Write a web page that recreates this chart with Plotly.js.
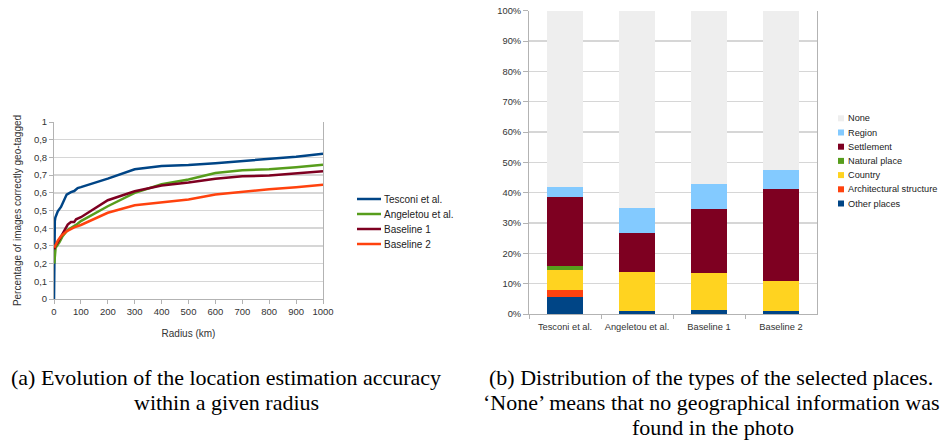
<!DOCTYPE html>
<html>
<head>
<meta charset="utf-8">
<script src="https://cdn.plot.ly/plotly-3.0.1.min.js"></script>
<style>html,body{margin:0;padding:0;background:#fff;}#chart{width:941px;height:440px;}</style>
</head>
<body>
<div id="chart"></div>
<script>
// ---------- Data: left chart (accuracy vs radius) ----------
const seriesNames = ["Tesconi et al.", "Angeletou et al.", "Baseline 1", "Baseline 2"];
const seriesColors = ["#004586", "#579D1C", "#7E0021", "#FF420E"];

const tesconiX = [0, 1, 3, 5, 14, 26, 38, 47, 63, 75, 88, 100, 200, 300, 400, 500, 600, 700, 800, 900, 1000];
const tesconiY = [0, 0.39, 0.44, 0.46, 0.495, 0.52, 0.557, 0.59, 0.604, 0.61, 0.627, 0.632, 0.68, 0.733, 0.752, 0.757, 0.767, 0.779, 0.79, 0.804, 0.82];

const angeletouX = [1, 3, 6, 20, 32, 51, 63, 75, 88, 100, 200, 300, 400, 500, 600, 700, 800, 900, 1000];
const angeletouY = [0.2, 0.27, 0.29, 0.32, 0.355, 0.39, 0.40, 0.41, 0.425, 0.44, 0.524, 0.6, 0.648, 0.675, 0.712, 0.727, 0.733, 0.745, 0.759];

const baseline1X = [1, 5, 14, 26, 38, 51, 63, 75, 82, 100, 200, 300, 400, 500, 600, 700, 800, 900, 1000];
const baseline1Y = [0.28, 0.3, 0.32, 0.35, 0.38, 0.42, 0.435, 0.435, 0.45, 0.462, 0.558, 0.609, 0.641, 0.658, 0.68, 0.693, 0.698, 0.71, 0.722];

const baseline2X = [1, 14, 26, 45, 57, 75, 100, 200, 300, 400, 500, 600, 700, 800, 900, 1000];
const baseline2Y = [0.29, 0.33, 0.355, 0.38, 0.39, 0.405, 0.418, 0.487, 0.53, 0.547, 0.562, 0.59, 0.607, 0.62, 0.632, 0.645];

const radiusTicks = [0, 100, 200, 300, 400, 500, 600, 700, 800, 900, 1000];
const accTickVals = [0, 0.1, 0.2, 0.3, 0.4, 0.5, 0.6, 0.7, 0.8, 0.9, 1];
const accTickText = ["0", "0,1", "0,2", "0,3", "0,4", "0,5", "0,6", "0,7", "0,8", "0,9", "1"];

// ---------- Data: right chart (place type distribution, %) ----------
const methods = ["Tesconi et al.", "Angeletou et al.", "Baseline 1", "Baseline 2"];
const placeTypes = ["Other places", "Architectural structure", "Country", "Natural place", "Settlement", "Region", "None"];
const placeColors = ["#004586", "#FF420E", "#FFD320", "#579D1C", "#7E0021", "#83CAFF", "#EEEEEE"];
const otherPlaces   = [5.7, 1.0, 1.4, 1.0];
const architectural = [2.3, 0.0, 0.0, 0.0];
const country       = [6.5, 13.0, 12.2, 9.9];
const naturalPlace  = [1.3, 0.0, 0.0, 0.0];
const settlement    = [22.7, 12.6, 21.1, 30.4];
const region        = [3.5, 8.2, 8.3, 6.1];
const none          = [58.0, 65.2, 57.0, 52.6];
const placeValues = [otherPlaces, architectural, country, naturalPlace, settlement, region, none];

// ---------- Layout helpers (pixel -> paper) ----------
const W = 941, H = 440;
const px = v => v / W;
const py = v => 1 - v / H;

const lineX = [tesconiX, angeletouX, baseline1X, baseline2X];
const lineY = [tesconiY, angeletouY, baseline1Y, baseline2Y];

const traces = [];
seriesNames.forEach((n, i) => {
  traces.push({
    type: "scatter", mode: "lines", name: n,
    x: lineX[i], y: lineY[i], xaxis: "x", yaxis: "y",
    line: {color: seriesColors[i], width: 2.5, shape: "linear"},
    showlegend: false, hoverinfo: "x+y+name"
  });
});
placeTypes.forEach((n, i) => {
  traces.push({
    type: "bar", name: n, x: methods, y: placeValues[i],
    xaxis: "x2", yaxis: "y2",
    marker: {color: placeColors[i], line: {width: 0}},
    width: 0.5, showlegend: false
  });
});

const axisFont = {family: "Liberation Sans, Arial, sans-serif", size: 9.5, color: "#333333"};
const gridC = "#d6d6d6", lineC = "#b3b3b3";

const shapes = [], annotations = [];

// Left custom legend
seriesNames.forEach((n, i) => {
  const yy = 199 + i * 15;
  shapes.push({type: "line", xref: "paper", yref: "paper",
    x0: px(357), x1: px(381), y0: py(yy), y1: py(yy),
    line: {color: seriesColors[i], width: 2.5}});
  annotations.push({xref: "paper", yref: "paper", x: px(382), y: py(yy),
    xanchor: "left", yanchor: "middle", showarrow: false, text: n,
    font: {family: "Liberation Sans, Arial, sans-serif", size: 10, color: "#222"}});
});

// Right custom legend (top item = None)
for (let k = placeTypes.length - 1, r = 0; k >= 0; k--, r++) {
  const yy = 118.3 + r * 14.2;
  shapes.push({type: "rect", xref: "paper", yref: "paper",
    x0: px(838), x1: px(844), y0: py(yy - 3), y1: py(yy + 3),
    fillcolor: placeColors[k], line: {width: 0}});
  annotations.push({xref: "paper", yref: "paper", x: px(845.5), y: py(yy),
    xanchor: "left", yanchor: "middle", showarrow: false, text: placeTypes[k],
    font: {family: "Liberation Sans, Arial, sans-serif", size: 9.2, color: "#222"}});
}

// Captions
const capFont = {family: "Liberation Serif, Times New Roman, serif", size: 22, color: "#000"};
const captions = [
  ["(a) Evolution of the location estimation accuracy", 226, 377],
  ["within a given radius", 226, 402],
  ["(b) Distribution of the types of the selected places.", 711, 377],
  ["\u2018None\u2019 means that no geographical information was", 711, 402],
  ["found in the photo", 713, 427]
];
captions.forEach(c => annotations.push({xref: "paper", yref: "paper", x: px(c[1]), y: py(c[2]),
  xanchor: "center", yanchor: "middle", showarrow: false, text: c[0], font: capFont}));

const layout = {
  width: W, height: H,
  margin: {l: 0, r: 0, t: 0, b: 0},
  paper_bgcolor: "#fff", plot_bgcolor: "#fff",
  showlegend: false,
  barmode: "stack",
  xaxis: {
    domain: [px(54), px(323)], anchor: "y",
    range: [0, 1000], tickvals: radiusTicks, ticks: "outside", ticklen: 4, tickcolor: lineC,
    showgrid: false, showline: true, linecolor: lineC, linewidth: 1, zeroline: false,
    tickfont: axisFont,
    title: {text: "Radius (km)", font: {family: "Liberation Sans, Arial, sans-serif", size: 10, color: "#333"}, standoff: 13}
  },
  yaxis: {
    domain: [py(299), py(122)], anchor: "x",
    range: [0, 1], tickvals: accTickVals, ticktext: accTickText,
    ticks: "outside", ticklen: 4, tickcolor: lineC,
    showgrid: true, gridcolor: gridC, gridwidth: 1.5,
    showline: true, mirror: true, linecolor: lineC, linewidth: 1, zeroline: false,
    tickfont: axisFont,
    title: {text: "Percentage of images correctly geo-tagged", font: {family: "Liberation Sans, Arial, sans-serif", size: 10, color: "#333"}, standoff: 10}
  },
  xaxis2: {
    domain: [px(529), px(817)], anchor: "y2",
    type: "category", range: [-0.5, 3.5],
    ticks: "outside", ticklen: 4, tickcolor: lineC, tickson: "boundaries", tickangle: 0,
    ticklabelstandoff: 4,
    showgrid: false, showline: true, linecolor: lineC, linewidth: 1,
    tickfont: {family: "Liberation Sans, Arial, sans-serif", size: 9.3, color: "#333"}
  },
  yaxis2: {
    domain: [py(314), py(10.7)], anchor: "x2",
    range: [0, 100], dtick: 10, ticksuffix: "%",
    ticks: "outside", ticklen: 5, tickcolor: lineC,
    showgrid: true, gridcolor: gridC, gridwidth: 1.5,
    showline: true, mirror: true, linecolor: lineC, linewidth: 1, zeroline: false,
    tickfont: {family: "Liberation Sans, Arial, sans-serif", size: 9.3, color: "#333"}
  },
  shapes: shapes,
  annotations: annotations
};

Plotly.newPlot("chart", traces, layout, {displayModeBar: false, staticPlot: true});
</script>
</body>
</html>
